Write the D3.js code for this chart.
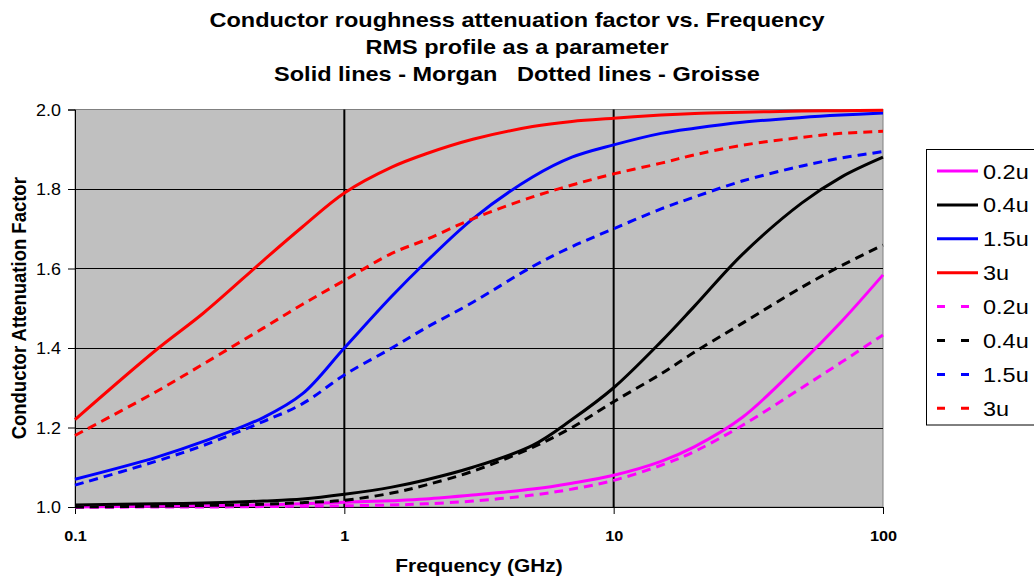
<!DOCTYPE html>
<html>
<head>
<meta charset="utf-8">
<script src="https://cdn.jsdelivr.net/npm/d3@7"></script>
<style>
  html, body { margin: 0; padding: 0; background: #ffffff; }
  svg { display: block; font-family: Arial, "Liberation Sans", sans-serif; }
  text { white-space: pre; }
</style>
</head>
<body>
<svg id="chart" width="1034" height="580"></svg>
<script>
// ---------------- data ----------------
const titleLines = [
  "Conductor roughness attenuation factor vs. Frequency",
  "RMS profile as a parameter",
  "Solid lines - Morgan   Dotted lines - Groisse"
];
const xAxisTitle = "Frequency (GHz)";
const yAxisTitle = "Conductor Attenuation Factor";

const freqGHz = [0.1, 0.2, 0.3, 0.5, 0.7, 1, 1.5, 2, 3, 5, 7, 10, 15, 20, 30, 50, 70, 100];

const morgan02 = [1.000, 1.002, 1.003, 1.005, 1.008, 1.012, 1.016, 1.020, 1.030, 1.045, 1.060, 1.080, 1.115, 1.152, 1.225, 1.365, 1.466, 1.584];
const morgan04 = [1.005, 1.008, 1.010, 1.015, 1.020, 1.032, 1.050, 1.068, 1.100, 1.155, 1.220, 1.300, 1.416, 1.506, 1.635, 1.765, 1.830, 1.880];
const morgan15 = [1.070, 1.125, 1.165, 1.225, 1.285, 1.400, 1.530, 1.615, 1.725, 1.830, 1.880, 1.911, 1.940, 1.953, 1.968, 1.980, 1.986, 1.991];
const morgan3  = [1.220, 1.395, 1.488, 1.620, 1.705, 1.790, 1.855, 1.888, 1.925, 1.957, 1.970, 1.978, 1.986, 1.990, 1.993, 1.996, 1.997, 1.998];

const groisse02 = [0.999, 1.000, 1.000, 1.001, 1.002, 1.003, 1.005, 1.008, 1.015, 1.030, 1.045, 1.067, 1.105, 1.140, 1.205, 1.300, 1.364, 1.433];
const groisse04 = [1.000, 1.002, 1.004, 1.007, 1.011, 1.017, 1.035, 1.055, 1.090, 1.150, 1.200, 1.265, 1.335, 1.390, 1.462, 1.553, 1.607, 1.659];
const groisse15 = [1.055, 1.115, 1.155, 1.215, 1.260, 1.332, 1.400, 1.450, 1.515, 1.605, 1.655, 1.700, 1.750, 1.780, 1.820, 1.858, 1.878, 1.894];
const groisse3  = [1.180, 1.290, 1.360, 1.450, 1.510, 1.570, 1.638, 1.672, 1.725, 1.780, 1.810, 1.838, 1.865, 1.886, 1.910, 1.930, 1.940, 1.945];

const seriesLabels = ["0.2u", "0.4u", "1.5u", "3u", "0.2u", "0.4u", "1.5u", "3u"];
const seriesValues = [morgan02, morgan04, morgan15, morgan3, groisse02, groisse04, groisse15, groisse3];
const seriesColors = ["#ff00ff", "#000000", "#0000ff", "#ff0000", "#ff00ff", "#000000", "#0000ff", "#ff0000"];
const seriesDashed = [false, false, false, false, true, true, true, true];

const yTicks = [1.0, 1.2, 1.4, 1.6, 1.8, 2.0];
const xTicks = [0.1, 1, 10, 100];
const xTickLabels = ["0.1", "1", "10", "100"];

// ---------------- layout ----------------
const SX = 1.12; // horizontal stretch of the reference's text
const svg = d3.select("#chart");
const plot = { left: 75, right: 883, top: 109.5, bottom: 507 };

const x = d3.scaleLog().domain([0.1, 100]).range([plot.left, plot.right]);
const y = d3.scaleLinear().domain([1, 2]).range([plot.bottom, plot.top]);

function stretchedText(parent, tx, ty, str, size, weight, anchor) {
  return parent.append("text")
    .attr("transform", `translate(${tx},${ty}) scale(${SX},1)`)
    .attr("text-anchor", anchor || "middle")
    .attr("font-size", size)
    .attr("font-weight", weight || "normal")
    .attr("fill", "#000")
    .text(str);
}

// plot background
svg.append("rect")
  .attr("x", plot.left).attr("y", plot.top)
  .attr("width", plot.right - plot.left).attr("height", plot.bottom - plot.top)
  .attr("fill", "#c0c0c0").attr("stroke", "#808080").attr("stroke-width", 1);

// horizontal gridlines
svg.append("g").selectAll("line")
  .data(yTicks.filter(v => v > 1 && v < 2))
  .join("line")
  .attr("x1", plot.left).attr("x2", plot.right)
  .attr("y1", d => Math.round(y(d)) + 0.5).attr("y2", d => Math.round(y(d)) + 0.5)
  .attr("stroke", "#000").attr("stroke-width", 1);

// vertical major gridlines
svg.append("g").selectAll("line")
  .data(xTicks.filter(v => v > 0.1 && v < 100))
  .join("line")
  .attr("x1", d => x(d)).attr("x2", d => x(d))
  .attr("y1", plot.top).attr("y2", plot.bottom)
  .attr("stroke", "#000").attr("stroke-width", 2);

// axes (ticks through d3 axes, labels stretched like the reference)
const yAxis = d3.axisLeft(y).tickValues(yTicks).tickSize(7).tickFormat("");
const gy = svg.append("g").attr("transform", `translate(${plot.left},0)`).call(yAxis);
gy.select(".domain").attr("stroke", "#000").attr("stroke-width", 1);
gy.selectAll(".tick line").attr("stroke", "#000");
gy.selectAll(".tick").each(function (d) {
  stretchedText(d3.select(this), -14, 5.8, d3.format(".1f")(d), 16, "normal", "end");
});

const xAxis = d3.axisBottom(x).tickValues(xTicks).tickSize(7).tickFormat("");
const gx = svg.append("g").attr("transform", `translate(0,${plot.bottom})`).call(xAxis);
gx.select(".domain").attr("stroke", "#000").attr("stroke-width", 1);
gx.selectAll(".tick line").attr("stroke", "#000");
gx.selectAll(".tick").each(function (d, i) {
  stretchedText(d3.select(this), 0, 33.5, xTickLabels[i], 14.5, "bold", "middle");
});

// series lines
const line = d3.line()
  .x((d, i) => x(freqGHz[i]))
  .y(d => y(d))
  .curve(d3.curveCatmullRom.alpha(0.5));

seriesValues.forEach((vals, k) => {
  svg.append("path")
    .datum(vals)
    .attr("d", line)
    .attr("fill", "none")
    .attr("stroke", seriesColors[k])
    .attr("stroke-width", 3)
    .attr("stroke-dasharray", seriesDashed[k] ? "9,6" : null)
    .attr("stroke-linejoin", "round");
});

// titles
titleLines.forEach((t, i) => {
  stretchedText(svg, 517, 27 + i * 27, t, 21, "bold", "middle");
});

stretchedText(svg, (plot.left + plot.right) / 2, 572, xAxisTitle, 18.7, "bold", "middle");

svg.append("text")
  .attr("transform", `translate(25.5,${(plot.top + plot.bottom) / 2}) rotate(-90) scale(1,${SX})`)
  .attr("text-anchor", "middle")
  .attr("font-size", 18.5).attr("font-weight", "bold").attr("fill", "#000")
  .text(yAxisTitle);

// legend
const legend = svg.append("g");
legend.append("rect")
  .attr("x", 926.5).attr("y", 149.5).attr("width", 130).attr("height", 275.5)
  .attr("fill", "#fff").attr("stroke", "#000").attr("stroke-width", 1);

seriesLabels.forEach((lab, k) => {
  const cy = 171 + k * 33.9;
  legend.append("line")
    .attr("x1", 937).attr("x2", 978)
    .attr("y1", cy).attr("y2", cy)
    .attr("stroke", seriesColors[k]).attr("stroke-width", 3)
    .attr("stroke-dasharray", seriesDashed[k] ? "8,16" : null);
  stretchedText(legend, 983, cy + 7.5, lab, 21, "normal", "start");
});
</script>
</body>
</html>
